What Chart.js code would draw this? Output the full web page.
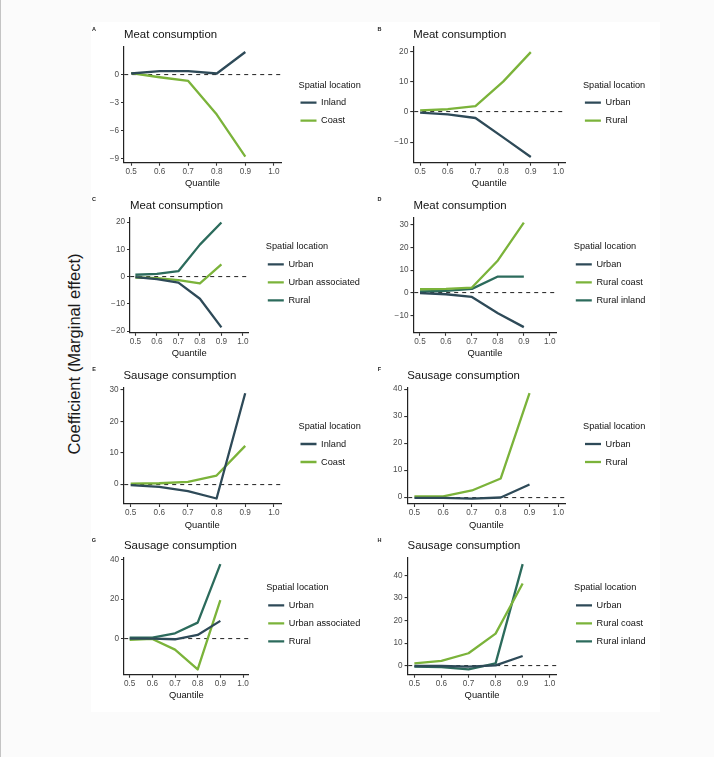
<!DOCTYPE html>
<html>
<head>
<meta charset="utf-8">
<script src="https://cdn.jsdelivr.net/npm/chart.js@4.4.1/dist/chart.umd.min.js"></script>
<style>
html,body{margin:0;padding:0;width:714px;height:757px;overflow:hidden;background:#fbfbfb;font-family:"Liberation Sans",Arial,Helvetica,sans-serif;}
#edge{position:absolute;left:0;top:0;width:1px;height:757px;background:#c4c4c4;}
#fig{position:absolute;left:91px;top:22px;width:569px;height:690px;background:#fff;}
canvas{position:absolute;}
.tag{position:absolute;font-size:5.5px;font-weight:bold;color:#222;line-height:1;transform:translate(-50%,-50%);}
#ylab{position:absolute;left:74px;top:354px;transform:translate(-50%,-50%) rotate(-90deg);font-size:16.5px;color:#1a1a1a;white-space:nowrap;}
</style>
</head>
<body>
<div id="edge"></div>
<div id="fig"></div>
<div id="ylab">Coefficient (Marginal effect)</div>
<script>
// ---------------- data ----------------
const quantiles = [0.5, 0.6, 0.7, 0.8, 0.9];
const quantileTicks = [0.5, 0.6, 0.7, 0.8, 0.9, 1.0];
const meatTitle = 'Meat consumption';
const sausageTitle = 'Sausage consumption';
const legendTitle = 'Spatial location';
const xTitle = 'Quantile';

const aLabels = ['Inland', 'Coast'];
const aInland = [0.1, 0.35, 0.35, 0.1, 2.4];
const aCoast = [0.15, -0.3, -0.7, -4.3, -8.8];
const aYTicks = [0, -3, -6, -9];

const bLabels = ['Urban', 'Rural'];
const bUrban = [-0.2, -0.8, -2.0, -8.4, -14.9];
const bRural = [0.55, 0.9, 1.9, 10.05, 19.8];
const bYTicks = [20, 10, 0, -10];

const cLabels = ['Urban', 'Urban associated', 'Rural'];
const cUrban = [-0.2, -0.9, -2.2, -8.1, -18.6];
const cUrbanAssoc = [-0.3, -0.55, -1.3, -2.5, 4.5];
const cRural = [0.7, 1.0, 2.0, 11.75, 19.9];
const cYTicks = [20, 10, 0, -10, -20];

const dLabels = ['Urban', 'Rural coast', 'Rural inland'];
const dUrban = [-0.1, -0.6, -1.8, -9.0, -15.1];
const dRuralCoast = [1.6, 1.75, 2.35, 14.3, 31.0];
const dRuralInland = [0.6, 0.9, 1.75, 7.2, 7.2];
const dYTicks = [30, 20, 10, 0, -10];

const eLabels = ['Inland', 'Coast'];
const eInland = [-0.3, -0.85, -2.2, -4.55, 28.95];
const eCoast = [0.2, 0.3, 0.75, 2.75, 12.2];
const eYTicks = [30, 20, 10, 0];

const fLabels = ['Urban', 'Rural'];
const fUrban = [-0.25, -0.25, -0.5, -0.1, 4.7];
const fRural = [0.35, 0.35, 2.5, 6.95, 38.5];
const fYTicks = [40, 30, 20, 10, 0];

const gLabels = ['Urban', 'Urban associated', 'Rural'];
const gUrban = [-0.15, -0.15, -0.5, 1.7, 8.9];
const gUrbanAssoc = [-0.85, -0.35, -5.8, -15.9, 19.5];
const gRural = [0.35, 0.35, 2.55, 8.0, 37.9];
const gYTicks = [40, 20, 0];

const hLabels = ['Urban', 'Rural coast', 'Rural inland'];
const hUrban = [-0.15, -0.15, -0.45, 0.15, 4.3];
const hRuralCoast = [1.0, 2.1, 5.5, 14.2, 36.4];
const hRuralInland = [-0.45, -0.6, -1.6, 1.0, 45.0];
const hYTicks = [40, 30, 20, 10, 0];

// ---------------- styles / layout ----------------
const DARK = '#2E4A58', GREEN = '#7BB33A', TEAL = '#2C6B5C';
const FONT = '"Liberation Sans", Arial, Helvetica, sans-serif';
Chart.defaults.font.family = FONT;

const panels = [
  {tag:'A', title:meatTitle, labels:aLabels, series:[aInland, aCoast], colors:[DARK, GREEN], yTicks:aYTicks, yMin:-9.45, yMax:2.97,
   box:{L:124, T:46.7, R:281, B:162.7}, tagAt:[94, 30]},
  {tag:'B', title:meatTitle, labels:bLabels, series:[bUrban, bRural], colors:[DARK, GREEN], yTicks:bYTicks, yMin:-16.8, yMax:21.6,
   box:{L:413.2, T:46.7, R:565.4, B:162.7}, tagAt:[379.5, 30]},
  {tag:'C', title:meatTitle, labels:cLabels, series:[cUrban, cUrbanAssoc, cRural], colors:[DARK, GREEN, TEAL], yTicks:cYTicks, yMin:-20.6, yMax:21.6,
   box:{L:130, T:217.8, R:248.3, B:332.8}, tagAt:[94, 200]},
  {tag:'D', title:meatTitle, labels:dLabels, series:[dUrban, dRuralCoast, dRuralInland], colors:[DARK, GREEN, TEAL], yTicks:dYTicks, yMin:-17.6, yMax:33.1,
   box:{L:413.5, T:217.8, R:556.3, B:332.8}, tagAt:[379.5, 200]},
  {tag:'E', title:sausageTitle, labels:eLabels, series:[eInland, eCoast], colors:[DARK, GREEN], yTicks:eYTicks, yMin:-6.3, yMax:30.6,
   box:{L:123.5, T:388, R:281, B:504}, tagAt:[94, 370]},
  {tag:'F', title:sausageTitle, labels:fLabels, series:[fUrban, fRural], colors:[DARK, GREEN], yTicks:fYTicks, yMin:-2.5, yMax:40.4,
   box:{L:407.2, T:388, R:565.5, B:504}, tagAt:[379.5, 370]},
  {tag:'G', title:sausageTitle, labels:gLabels, series:[gUrban, gUrbanAssoc, gRural], colors:[DARK, GREEN, TEAL], yTicks:gYTicks, yMin:-18.6, yMax:41,
   box:{L:124, T:558, R:248.7, B:674.7}, tagAt:[94, 540.5]},
  {tag:'H', title:sausageTitle, labels:hLabels, series:[hUrban, hRuralCoast, hRuralInland], colors:[DARK, GREEN, TEAL], yTicks:hYTicks, yMin:-4, yMax:47.7,
   box:{L:407.6, T:558, R:556.5, B:674.7}, tagAt:[379.5, 540.5]}
];

const Y_W = 30;          // y-axis box width
const X_H = 26.6;        // x-axis box height
const TITLE_SIZE = 11.4;
const TITLE_PADB = 5.2;
const TITLE_H = TITLE_SIZE * 1.2 + TITLE_PADB;
const GAP = 17.5;        // gap between panel and legend
const LEG_W = 100;       // legend content width
const LEG_FONT = 9.2;

const fmtY = v => (v < 0 ? '\u2212' + Math.abs(v) : String(v));

const legendPlacement = {
  id: 'legendPlacement',
  beforeLayout(chart) {
    const lg = chart.legend;
    if (lg && !lg.__patched) {
      const fit = lg.fit;
      lg.fit = function () { fit.call(this); this.width = GAP + LEG_W; };
      lg.__patched = true;
    }
  },
  afterLayout(chart) {
    const lg = chart.legend;
    if (lg) { lg.left += GAP; lg.width -= GAP; }
  }
};

function makePanel(p) {
  const b = p.box;
  const cx = Math.floor(b.L - Y_W - 1), cy = Math.floor(b.T - TITLE_H - 1);
  const rightEdge = b.R + GAP + LEG_W, bottomEdge = b.B + X_H;
  const cw = Math.ceil(rightEdge + 2) - cx, ch = Math.ceil(bottomEdge + 2) - cy;
  const pad = {left: b.L - Y_W - cx, top: b.T - TITLE_H - cy, right: cx + cw - rightEdge, bottom: cy + ch - bottomEdge};

  const cv = document.createElement('canvas');
  cv.width = cw; cv.height = ch;
  cv.style.left = cx + 'px'; cv.style.top = cy + 'px';
  cv.style.width = cw + 'px'; cv.style.height = ch + 'px';
  document.body.appendChild(cv);

  const tag = document.createElement('div');
  tag.className = 'tag'; tag.textContent = p.tag;
  tag.style.left = p.tagAt[0] + 'px'; tag.style.top = p.tagAt[1] + 'px';
  document.body.appendChild(tag);

  const datasets = p.series.map((vals, i) => ({
    label: p.labels[i],
    data: quantiles.map((q, j) => ({x: q, y: vals[j]})),
    borderColor: p.colors[i],
    backgroundColor: p.colors[i],
    borderWidth: 2.3,
    borderJoinStyle: 'round',
    pointRadius: 0,
    pointHoverRadius: 0,
    tension: 0,
    fill: false
  }));

  new Chart(cv, {
    type: 'line',
    data: {datasets},
    plugins: [legendPlacement],
    options: {
      responsive: false,
      animation: false,
      devicePixelRatio: 1,
      events: [],
      layout: {padding: pad},
      scales: {
        x: {
          type: 'linear', min: 0.475, max: 1.025,
          afterBuildTicks: s => { s.ticks = quantileTicks.map(v => ({value: v})); },
          afterFit: s => { s.height = X_H; },
          ticks: {callback: v => Number(v).toFixed(1), font: {size: 8.2}, color: '#4d4d4d', padding: 1, maxRotation: 0, autoSkip: false},
          grid: {color: 'transparent', drawOnChartArea: false, drawTicks: true, tickLength: 3, tickColor: '#333', tickWidth: 1.1},
          border: {display: true, color: '#222', width: 1.2},
          title: {display: true, text: xTitle, font: {size: 9.4}, color: '#111', padding: {top: 0, bottom: 0}}
        },
        y: {
          type: 'linear', min: p.yMin, max: p.yMax,
          afterBuildTicks: s => { s.ticks = p.yTicks.map(v => ({value: v})); },
          afterFit: s => { s.width = Y_W; },
          ticks: {callback: v => fmtY(v), font: {size: 8.2}, color: '#4d4d4d', padding: 2, autoSkip: false},
          grid: {
            color: c => (c.tick && c.tick.value === 0 ? '#333' : 'transparent'),
            lineWidth: 1.1, drawOnChartArea: true, drawTicks: true, tickLength: 3, tickColor: '#333', tickWidth: 1.1
          },
          border: {display: true, color: '#222', width: 1.2, dash: [4, 4]}
        }
      },
      plugins: {
        title: {
          display: true, text: p.title, align: 'start', fullSize: false,
          font: {size: TITLE_SIZE, weight: 'normal'}, color: '#111', padding: {top: 0, bottom: TITLE_PADB}
        },
        legend: {
          display: true, position: 'right', align: 'center', fullSize: false,
          title: {display: true, text: legendTitle, position: 'start', color: '#111',
                  font: {size: LEG_FONT}, padding: {top: 5.1, bottom: 4.66}},
          labels: {
            usePointStyle: true, pointStyle: 'line', pointStyleWidth: 16, padding: 2,
            color: '#111', font: {size: LEG_FONT, lineHeight: 16 / LEG_FONT},
            generateLabels: chart => {
              const items = Chart.defaults.plugins.legend.labels.generateLabels(chart);
              items.forEach(it => { it.text = [it.text]; it.pointStyle = 'line'; });
              return items;
            }
          }
        },
        tooltip: {enabled: false}
      }
    }
  });
}

panels.forEach(makePanel);
</script>
</body>
</html>
